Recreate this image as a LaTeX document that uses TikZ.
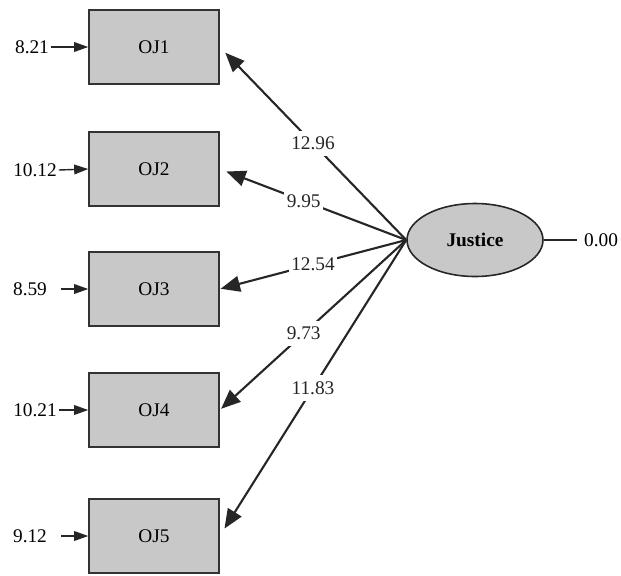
\documentclass[tikz,border=0pt]{standalone}
\usepackage{fontspec}
\setmainfont{Liberation Serif}
\usepackage{xcolor}
\usepackage{tikz}
\usetikzlibrary{shapes.geometric,arrows.meta}
\definecolor{boxgray}{HTML}{C8C8C8}
\definecolor{edgegray}{HTML}{333333}
\tikzset{
  obs/.style={draw=edgegray, line width=0.9pt, fill=boxgray, minimum width=2.6cm, minimum height=1.48cm, inner sep=0pt},
  latent/.style={ellipse, draw=black!85, line width=0.9pt, fill=boxgray, minimum width=2.72cm, minimum height=1.46cm, inner sep=0pt, font=\fontsize{11}{13}\selectfont\bfseries},
  load/.style={line width=1.2pt, black!85, -{Triangle[length=11pt,width=9pt]}},
  err/.style={line width=0.8pt, black!85, -{Triangle[length=8pt,width=5.5pt]}},
  val/.style={fill=white, inner xsep=1.5pt, inner ysep=3.5pt, font=\fontsize{11}{13}\selectfont},
  errval/.style={inner sep=1pt, font=\fontsize{11}{13}\selectfont}
}
\begin{document}
\begin{tikzpicture}[x=0.02cm,y=-0.02cm]
\useasboundingbox (0,0) rectangle (621,575);
\node[obs] (OJ1) at (154,47) {\fontsize{11}{13}\selectfont OJ1};
\node[obs] (OJ2) at (154,169) {\fontsize{11}{13}\selectfont OJ2};
\node[obs] (OJ3) at (154,289) {\fontsize{11}{13}\selectfont OJ3};
\node[obs] (OJ4) at (154,410) {\fontsize{11}{13}\selectfont OJ4};
\node[obs] (OJ5) at (154,536) {\fontsize{11}{13}\selectfont OJ5};
\node[latent] (J) at (475,240) {Justice};
\node[errval] (e1) at (32,47) {8.21};
\node[errval] (e2) at (35,170) {10.12};
\node[errval] (e3) at (30,289) {8.59};
\node[errval] (e4) at (35,410) {10.21};
\node[errval] (e5) at (30,536) {9.12};
\node[errval] (z) at (601,240) {0.00};
\draw[err] (e1.east) -- (OJ1.west);
\draw[err] (e2.east) -- (OJ2.west);
\draw[err, shorten <=7pt] (e3.east) -- (OJ3.west);
\draw[err] (e4.east) -- (OJ4.west);
\draw[err, shorten <=7pt] (e5.east) -- (OJ5.west);
\draw[line width=0.8pt, black!85, shorten >=3pt] (J.east) -- (z.west);
\draw[load, shorten >=4.5pt] (J.west) -- node[val, pos=0.5] {12.96} (OJ1.east);
\draw[load, shorten >=4pt] (J.west) -- node[val, pos=0.55] {9.95} (OJ2.east);
\draw[load, shorten >=0.5pt] (J.west) -- node[val, pos=0.5] {12.54} (OJ3.east);
\draw[load, shorten >=1pt] (J.west) -- node[val, pos=0.55] {9.73} (OJ4.east);
\draw[load, shorten >=5pt] (J.west) -- node[val, pos=0.5] {11.83} (OJ5.east);
\end{tikzpicture}
\end{document}
